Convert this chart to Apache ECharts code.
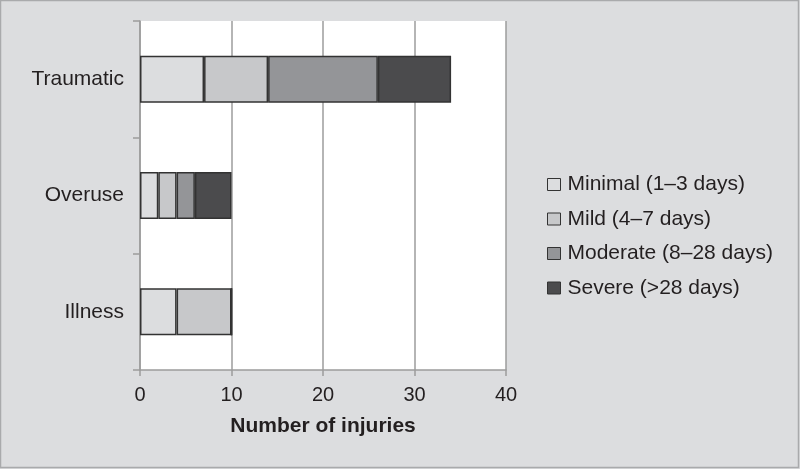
<!DOCTYPE html>
<html>
<head>
<meta charset="utf-8">
<script src="https://cdn.jsdelivr.net/npm/echarts@6/dist/echarts.min.js"></script>
<style>
html,body{margin:0;padding:0;background:#dcdddf;}
#c{width:800px;height:469px;}
</style>
</head>
<body>
<div id="c"></div>
<script>
var categories = ['Traumatic', 'Overuse', 'Illness'];
var seriesNames = ['Minimal (1\u20133 days)', 'Mild (4\u20137 days)', 'Moderate (8\u201328 days)', 'Severe (>28 days)'];
var minimal = [7, 2, 4];
var mild = [7, 2, 6];
var moderate = [12, 2, 0];
var severe = [8, 4, 0];
var xTicks = [0, 10, 20, 30, 40];
var colors = ['#dcdddf', '#c7c8ca', '#949598', '#4b4b4d'];

var values = [minimal, mild, moderate, severe];
var font = '"Liberation Sans", Arial, sans-serif';
var chart = echarts.init(document.getElementById('c'));
chart.setOption({
  backgroundColor: '#dcdddf',
  animation: false,
  graphic: [{
    type: 'rect', silent: true, z: 100,
    shape: {x: 0.5, y: 0.5, width: 798, height: 467},
    style: {fill: 'none', stroke: '#a9aaac', lineWidth: 1.5}
  }],
  grid: {left: 140, right: 294, top: 21, bottom: 99, show: true, backgroundColor: '#ffffff', borderWidth: 0},
  legend: {
    orient: 'vertical', left: 547, top: 174, padding: 0,
    itemWidth: 13, itemHeight: 12, itemGap: 13.5,
    icon: 'rect',
    itemStyle: {borderColor: '#333333', borderWidth: 1},
    textStyle: {fontFamily: font, fontSize: 21, color: '#231f20', lineHeight: 21, padding: [0, 0, 0, 2]},
    data: seriesNames
  },
  xAxis: {
    type: 'value', min: xTicks[0], max: xTicks[xTicks.length - 1], interval: 10,
    axisLine: {show: true, lineStyle: {color: '#9c9c9c', width: 1.5}},
    axisTick: {show: true, length: 6, lineStyle: {color: '#9c9c9c', width: 1.5}},
    splitLine: {show: true, lineStyle: {color: '#9c9c9c', width: 1.5}},
    axisLabel: {fontFamily: font, fontSize: 20, color: '#231f20', margin: 15},
    name: 'Number of injuries', nameLocation: 'middle', nameGap: 46,
    nameTextStyle: {fontFamily: font, fontSize: 21, fontWeight: 'bold', color: '#231f20'}
  },
  yAxis: {
    type: 'category', data: categories, inverse: true,
    axisLine: {show: true, lineStyle: {color: '#9c9c9c', width: 1.5}},
    axisTick: {show: true, length: 7, lineStyle: {color: '#9c9c9c', width: 1.5}},
    axisLabel: {fontFamily: font, fontSize: 21, color: '#231f20', margin: 16},
    splitLine: {show: false}
  },
  series: values.map(function (v, i) {
    return {
      name: seriesNames[i], type: 'bar', stack: 'total', barWidth: 47,
      data: v,
      itemStyle: {color: colors[i], borderColor: '#333333', borderWidth: 1.5}
    };
  })
});
</script>
</body>
</html>
